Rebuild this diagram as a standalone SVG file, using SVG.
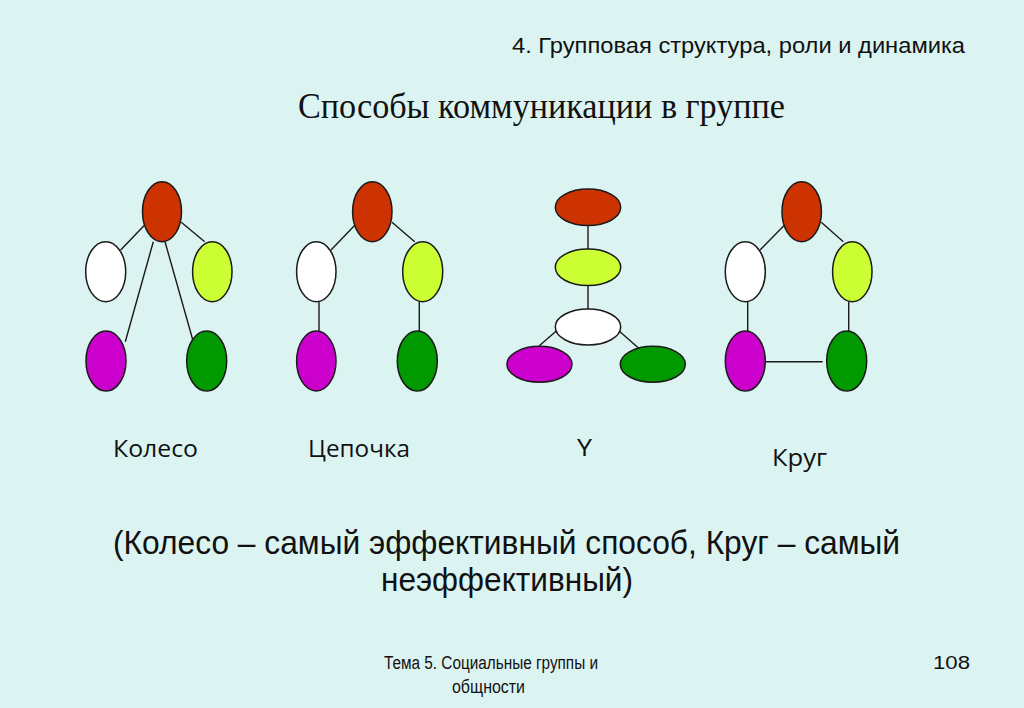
<svg xmlns="http://www.w3.org/2000/svg" width="1024" height="708" viewBox="0 0 1024 708">
<style>
.n{stroke:#1a1a1a;stroke-width:1.5}
.r{fill:#CC3300}.y{fill:#CCFF33}.w{fill:#FFFFFF}.m{fill:#CC00CC}.g{fill:#009900}
.c line{stroke:#1a1a1a;stroke-width:1.4}
.lab{font-family:"Open Sans","Noto Sans",sans-serif;font-size:23px;fill:#111}
.sans{font-family:"Liberation Sans",Arial,sans-serif;fill:#111}
</style>
<rect width="1024" height="708" fill="#DCF4F1"/>
<text class="sans" x="512" y="53" font-size="22" textLength="453" lengthAdjust="spacingAndGlyphs">4. Групповая структура, роли и динамика</text>
<text x="298" y="118" font-family="'Liberation Serif','Times New Roman',serif" font-size="36" fill="#111" textLength="487" lengthAdjust="spacingAndGlyphs">Способы коммуникации в группе</text>

<g id="connectors" class="c">
<line x1="147.3" y1="222.3" x2="120.7" y2="250"/>
<line x1="181.3" y1="222.3" x2="204.7" y2="241.7"/>
<line x1="153.3" y1="241.7" x2="125.3" y2="341.7"/>
<line x1="165" y1="241.7" x2="193.3" y2="341.7"/>
<line x1="357.7" y1="222.3" x2="331" y2="250"/>
<line x1="392" y1="222.3" x2="414.7" y2="241.7"/>
<line x1="319" y1="301.7" x2="319" y2="331"/>
<line x1="419.3" y1="301.7" x2="419.3" y2="331"/>
<line x1="588" y1="225.7" x2="588" y2="249"/>
<line x1="588" y1="285.7" x2="588" y2="309"/>
<line x1="556" y1="331.3" x2="539.3" y2="345.7"/>
<line x1="620" y1="331.7" x2="642.7" y2="351.7"/>
<line x1="787.3" y1="222.3" x2="760" y2="250"/>
<line x1="821.3" y1="222.3" x2="843.3" y2="241.7"/>
<line x1="747.7" y1="301.7" x2="747.7" y2="331"/>
<line x1="848.7" y1="301.7" x2="848.7" y2="331"/>
<line x1="766" y1="361.7" x2="822.7" y2="361.7"/>
</g>

<g id="wheel">
<ellipse class="n r" cx="162" cy="211.7" rx="19.5" ry="30"/>
<ellipse class="n w" cx="105.7" cy="271.7" rx="20" ry="30"/>
<ellipse class="n y" cx="212.3" cy="271.7" rx="19.7" ry="30"/>
<ellipse class="n m" cx="106" cy="361" rx="20" ry="30"/>
<ellipse class="n g" cx="206.7" cy="361" rx="20" ry="30"/>
<text class="lab" x="113" y="457" textLength="85" lengthAdjust="spacingAndGlyphs">Колесо</text>
</g>

<g id="chain">
<ellipse class="n r" cx="372.3" cy="211.7" rx="19.7" ry="30"/>
<ellipse class="n w" cx="316.3" cy="271.7" rx="19.7" ry="30"/>
<ellipse class="n y" cx="422.7" cy="271.7" rx="20" ry="30"/>
<ellipse class="n m" cx="316.3" cy="361" rx="19.7" ry="30"/>
<ellipse class="n g" cx="417.3" cy="361" rx="20" ry="30"/>
<text class="lab" x="308" y="457" textLength="102" lengthAdjust="spacingAndGlyphs">Цепочка</text>
</g>

<g id="ygraph">
<ellipse class="n r" cx="588" cy="207.3" rx="32.7" ry="18.3"/>
<ellipse class="n y" cx="588" cy="267.3" rx="32.7" ry="18.3"/>
<ellipse class="n w" cx="588" cy="327" rx="32.7" ry="18"/>
<ellipse class="n m" cx="539.5" cy="364.3" rx="32.5" ry="18"/>
<ellipse class="n g" cx="652.8" cy="364.3" rx="32.5" ry="18"/>
<text class="lab" x="577" y="456" textLength="15" lengthAdjust="spacingAndGlyphs">Y</text>
</g>

<g id="circle">
<ellipse class="n r" cx="801.7" cy="211.7" rx="19.7" ry="30"/>
<ellipse class="n w" cx="745.3" cy="271.7" rx="20" ry="30"/>
<ellipse class="n y" cx="852.3" cy="271.7" rx="19.7" ry="30"/>
<ellipse class="n m" cx="745.3" cy="361" rx="20" ry="30"/>
<ellipse class="n g" cx="846.7" cy="361" rx="20" ry="30"/>
<text class="lab" x="772" y="466" textLength="55" lengthAdjust="spacingAndGlyphs">Круг</text>
</g>

<text class="sans" x="113" y="554" font-size="34" textLength="787" lengthAdjust="spacingAndGlyphs">(Колесо – самый эффективный способ, Круг – самый</text>
<text class="sans" x="381" y="591" font-size="34" textLength="252" lengthAdjust="spacingAndGlyphs">неэффективный)</text>

<text class="sans" x="384" y="669" font-size="18" textLength="214" lengthAdjust="spacingAndGlyphs">Тема 5. Социальные группы и</text>
<text class="sans" x="452" y="693" font-size="18" textLength="73" lengthAdjust="spacingAndGlyphs">общности</text>
<text class="sans" x="933" y="669" font-size="18" textLength="37" lengthAdjust="spacingAndGlyphs">108</text>
</svg>
